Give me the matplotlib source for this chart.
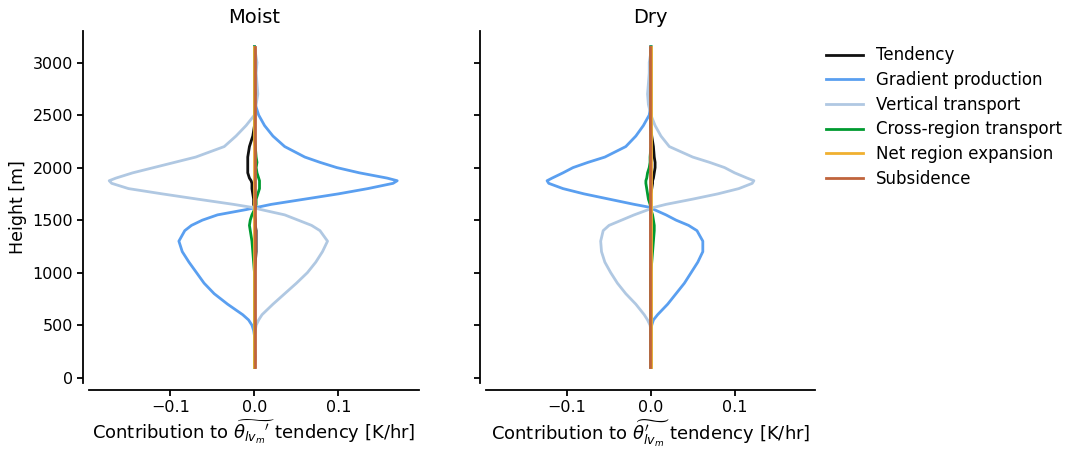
import matplotlib
matplotlib.use("Agg")
import matplotlib.pyplot as plt
import numpy as np

heights = [100, 200, 300, 400, 450, 500, 550, 600, 700, 800, 900, 1000, 1100, 1200,
           1300, 1400, 1450, 1500, 1550, 1600, 1620, 1650, 1700, 1750, 1800, 1850,
           1875, 1900, 1950, 2000, 2050, 2100, 2200, 2300, 2400, 2500, 2600, 2700,
           2800, 2900, 3000, 3100, 3150]

# Moist panel
moist_tendency = [0, 0, 0, 0, 0, 0, 0, 0, 0, 0, 0, 0, 0.001, 0.002,
                  0.002, 0.002, 0.001, 0.001, 0, 0, 0, -0.001, -0.001, -0.002, -0.003, -0.003,
                  -0.004, -0.006, -0.008, -0.008, -0.008, -0.008, -0.006, -0.002, 0, 0, 0.001, 0.003,
                  0.002, 0, 0, 0, 0]
moist_gradient = [0, 0, 0, 0, -0.001, -0.003, -0.007, -0.014, -0.032, -0.048, -0.060, -0.069, -0.078, -0.086,
                  -0.090, -0.083, -0.075, -0.062, -0.044, -0.010, 0.002, 0.020, 0.060, 0.100, 0.135, 0.165,
                  0.170, 0.158, 0.125, 0.098, 0.078, 0.060, 0.036, 0.022, 0.012, 0.005, 0.001, 0,
                  0, 0, 0, 0, 0]
moist_vertical = [0, 0.001, 0, 0, 0.001, 0.002, 0.005, 0.009, 0.022, 0.036, 0.050, 0.063, 0.073, 0.081,
                  0.087, 0.078, 0.068, 0.052, 0.036, 0.008, -0.002, -0.025, -0.068, -0.110, -0.150, -0.170,
                  -0.173, -0.165, -0.145, -0.120, -0.095, -0.070, -0.036, -0.022, -0.010, 0.0, 0.002, 0.004,
                  0.003, 0.002, 0.003, 0.001, 0]
moist_cross = [0, 0, 0, 0, 0, 0, 0, 0, 0, 0, 0, 0, -0.001, -0.002,
               -0.003, -0.005, -0.006, -0.005, -0.003, 0, 0.001, 0.002, 0.002, 0.004, 0.006, 0.006,
               0.006, 0.005, 0.003, 0.002, 0.003, 0.002, 0.001, 0, 0, 0, 0, 0,
               0, 0, 0, 0, 0]
moist_expansion = [0] * 43
moist_subsidence = [0.001] * 43

# Dry panel
dry_tendency = [0, 0, 0, 0, 0, 0, 0, 0, 0, 0, 0, 0, 0, 0,
                0, 0, 0, 0, 0, 0, 0, 0, 0, 0, 0.001, 0.002,
                0.002, 0.003, 0.004, 0.005, 0.005, 0.004, 0.003, 0.001, 0, 0, 0, 0,
                0, 0, 0, 0, 0]
dry_gradient = [0, 0, 0, 0, 0, 0.001, 0.003, 0.008, 0.020, 0.030, 0.040, 0.048, 0.056, 0.062,
                0.062, 0.055, 0.045, 0.030, 0.018, 0.004, 0, -0.020, -0.050, -0.080, -0.105, -0.122,
                -0.124, -0.118, -0.105, -0.093, -0.075, -0.055, -0.030, -0.018, -0.009, -0.002, 0, 0,
                0, 0, 0, 0, 0]
dry_vertical = [0, 0, 0, 0, 0, -0.001, -0.004, -0.008, -0.018, -0.030, -0.040, -0.048, -0.055, -0.059,
                -0.060, -0.057, -0.050, -0.035, -0.020, -0.003, 0.003, 0.018, 0.050, 0.080, 0.105, 0.121,
                0.123, 0.115, 0.100, 0.088, 0.070, 0.050, 0.022, 0.012, 0.005, 0.0, -0.003, -0.004,
                -0.003, -0.002, -0.002, 0, 0]
dry_cross = [0, 0, 0, 0, 0, 0, 0, 0, 0, 0, 0, 0, 0.001, 0.002,
             0.003, 0.004, 0.004, 0.003, 0.002, 0, 0, -0.001, -0.003, -0.004, -0.005, -0.006,
             -0.006, -0.005, -0.004, -0.002, -0.001, -0.001, 0, 0, 0, 0, 0, 0,
             0, 0, 0, 0, 0]
dry_expansion = [0] * 43
dry_subsidence = [-0.001] * 43

labels = ["Tendency", "Gradient production", "Vertical transport",
          "Cross-region transport", "Net region expansion", "Subsidence"]
colors = ["#111111", "#5a9ff0", "#b0c8e2", "#009a30", "#f0b030", "#c0643c"]
titles = ["Moist", "Dry"]
xlabels = [r"Contribution to $\widetilde{\theta_{lv_m}{}'}$ tendency [K/hr]",
           r"Contribution to $\widetilde{\theta^{\prime}_{lv_m}}$ tendency [K/hr]"]

panels = [
    [moist_tendency, moist_gradient, moist_vertical, moist_cross, moist_expansion, moist_subsidence],
    [dry_tendency, dry_gradient, dry_vertical, dry_cross, dry_expansion, dry_subsidence],
]

fig = plt.figure(figsize=(10.69, 4.49), dpi=100)
ax1 = fig.add_axes([0.0833, 0.147, 0.3087, 0.784])
ax2 = fig.add_axes([0.4546, 0.147, 0.3078, 0.784], sharey=ax1, sharex=ax1)
axes = [ax1, ax2]

handles = []
for i, ax in enumerate(axes):
    for j, series in enumerate(panels[i]):
        h, = ax.plot(series, heights, color=colors[j], lw=2, label=labels[j])
        if i == 0:
            handles.append(h)
    ax.set_title(titles[i], fontsize=14)
    ax.set_xlabel(xlabels[i], fontsize=13, labelpad=2)
    for s in ["top", "right"]:
        ax.spines[s].set_visible(False)
    ax.spines["left"].set_position(("outward", 4))
    ax.spines["bottom"].set_position(("outward", 5))
    ax.spines["left"].set_linewidth(1.3)
    ax.spines["bottom"].set_linewidth(1.3)
    ax.tick_params(labelsize=11.5, width=1.3, length=4)
    ax.set_xticks([-0.1, 0.0, 0.1])
    ax.set_yticks([0, 500, 1000, 1500, 2000, 2500, 3000])

ax1.set_xlim(-0.197, 0.196)
ax1.set_ylim(-50, 3300)
ax1.set_ylabel("Height [m]", fontsize=12.5)
ax2.tick_params(labelleft=False)

fig.legend(handles=handles, labels=labels, loc="upper left",
           bbox_to_anchor=(0.7587, 0.93), frameon=False, fontsize=12,
           handlelength=2.2, labelspacing=0.4)

fig.savefig("out.png", dpi=100)
